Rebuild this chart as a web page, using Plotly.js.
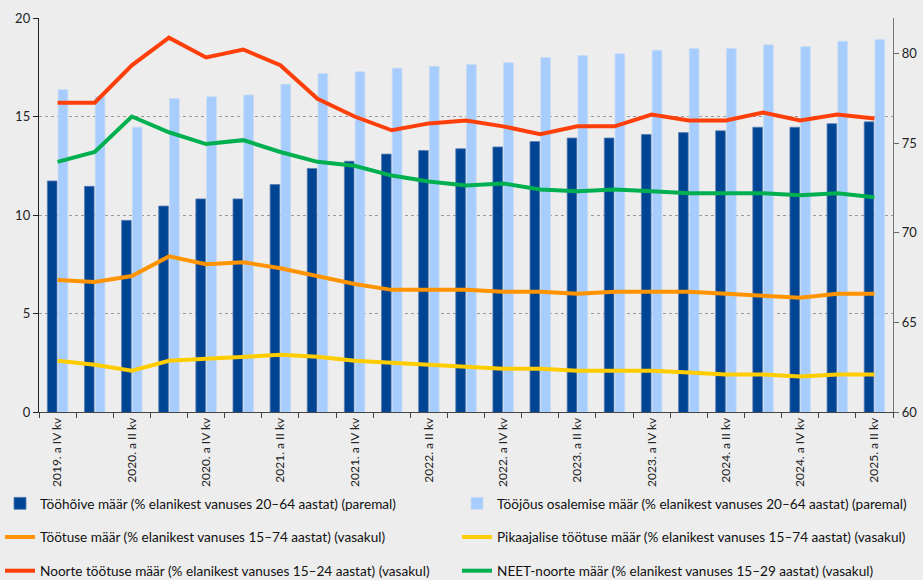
<!DOCTYPE html>
<html>
<head>
<meta charset="utf-8">
<script src="https://cdn.plot.ly/plotly-3.0.1.min.js"></script>
<style>
html,body{margin:0;padding:0;background:#ededed;}
#chart{width:923px;height:580px;}
</style>
</head>
<body>
<div id="chart"></div>
<script>
const quarters = [
  "2019. a IV kv","2020. a I kv","2020. a II kv","2020. a III kv","2020. a IV kv",
  "2021. a I kv","2021. a II kv","2021. a III kv","2021. a IV kv",
  "2022. a I kv","2022. a II kv","2022. a III kv","2022. a IV kv",
  "2023. a I kv","2023. a II kv","2023. a III kv","2023. a IV kv",
  "2024. a I kv","2024. a II kv","2024. a III kv","2024. a IV kv",
  "2025. a I kv","2025. a II kv"
];
// right axis (%)
const employmentRate = [72.9,72.6,70.7,71.5,71.9,71.9,72.7,73.6,74.0,74.4,74.6,74.7,74.8,75.1,75.3,75.3,75.5,75.6,75.7,75.9,75.9,76.1,76.2];
const participationRate = [78.0,77.6,75.9,77.5,77.6,77.7,78.3,78.9,79.0,79.2,79.3,79.4,79.5,79.8,79.9,80.0,80.2,80.3,80.3,80.5,80.4,80.7,80.8];
// left axis (%)
const unemploymentRate = [6.7,6.6,6.9,7.9,7.5,7.6,7.3,6.9,6.5,6.2,6.2,6.2,6.1,6.1,6.0,6.1,6.1,6.1,6.0,5.9,5.8,6.0,6.0];
const longTermUnemployment = [2.6,2.4,2.1,2.6,2.7,2.8,2.9,2.8,2.6,2.5,2.4,2.3,2.2,2.2,2.1,2.1,2.1,2.0,1.9,1.9,1.8,1.9,1.9];
const youthUnemployment = [15.7,15.7,17.6,19.0,18.0,18.4,17.6,15.9,15.0,14.3,14.65,14.8,14.5,14.1,14.5,14.5,15.1,14.8,14.8,15.2,14.8,15.1,14.9];
const neetRate = [12.7,13.2,15.0,14.2,13.6,13.8,13.2,12.7,12.5,12.0,11.7,11.5,11.6,11.3,11.2,11.3,11.2,11.1,11.1,11.1,11.0,11.1,10.9];

const seriesNames = [
  "Tööhõive määr (% elanikest vanuses 20–64 aastat) (paremal)",
  "Tööjõus osalemise määr (% elanikest vanuses 20–64 aastat) (paremal)",
  "Töötuse määr (% elanikest vanuses 15–74 aastat) (vasakul)",
  "Pikaajalise töötuse määr (% elanikest vanuses 15–74 aastat) (vasakul)",
  "Noorte töötuse määr (% elanikest vanuses 15–24 aastat) (vasakul)",
  "NEET-noorte määr (% elanikest vanuses 15–29 aastat) (vasakul)"
];

// bars on the base (right-side) axis "y"; lines on the overlaying left axis "y2" so they draw on top
const traces = [
  {type:"bar", x:quarters, y:employmentRate, yaxis:"y", name:seriesNames[0],
   marker:{color:"#004494", line:{color:"#5b7fb5", width:0.8}}, legend:"legend", legendgroup:"a"},
  {type:"bar", x:quarters, y:participationRate, yaxis:"y", name:seriesNames[1],
   marker:{color:"#a6cdfd", line:{color:"#c8dcf2", width:0.8}}, legend:"legend2", legendgroup:"b"},
  {type:"scatter", mode:"lines", x:quarters, y:unemploymentRate, yaxis:"y2", name:seriesNames[2],
   line:{color:"#ff9300", width:4}, legend:"legend", legendgroup:"c"},
  {type:"scatter", mode:"lines", x:quarters, y:longTermUnemployment, yaxis:"y2", name:seriesNames[3],
   line:{color:"#ffcc00", width:4}, legend:"legend2", legendgroup:"d"},
  {type:"scatter", mode:"lines", x:quarters, y:youthUnemployment, yaxis:"y2", name:seriesNames[4],
   line:{color:"#ff3f0a", width:4}, legend:"legend", legendgroup:"e"},
  {type:"scatter", mode:"lines", x:quarters, y:neetRate, yaxis:"y2", name:seriesNames[5],
   line:{color:"#00b050", width:4}, legend:"legend2", legendgroup:"f"}
];

const legendFont = {family:"Lato, 'Open Sans', sans-serif", size:13.6, color:"#111"};
const layout = {
  width:923, height:580,
  paper_bgcolor:"#ededed", plot_bgcolor:"#ededed",
  margin:{l:39, r:30, t:18, b:168, autoexpand:false},
  font:{family:"Lato, 'Open Sans', sans-serif", size:12, color:"#222"},
  barmode:"group", bargap:0.42, bargroupgap:0.1,
  showlegend:true,
  xaxis:{
    type:"category", dtick:1, ticklabelstep:2, tickangle:-90, automargin:false,
    tickson:"boundaries", ticks:"outside", ticklen:5, tickcolor:"#444",
    showline:true, linecolor:"#444", linewidth:1, showgrid:false,
    tickfont:{size:12, color:"#222"}
  },
  yaxis:{
    range:[60,82], tickmode:"linear", tick0:60, dtick:5, side:"right",
    ticks:"outside", ticklen:5, tickcolor:"#666", automargin:false,
    showline:true, linecolor:"#777", linewidth:1.2, showgrid:false, zeroline:false,
    tickfont:{size:13, color:"#222"}
  },
  yaxis2:{
    range:[0,20], tickmode:"linear", tick0:0, dtick:5, overlaying:"y", side:"left",
    ticks:"outside", ticklen:5, tickcolor:"#222",
    showline:true, linecolor:"#222", linewidth:1.2, automargin:false,
    showgrid:true, gridcolor:"#9a9a9a", griddash:"dot", gridwidth:1, zeroline:false,
    tickfont:{size:13, color:"#222"}
  },
  legend:{xref:"container", yref:"container", x:0, y:1-488/580, xanchor:"left", yanchor:"top",
    bgcolor:"rgba(0,0,0,0)", font:legendFont, tracegroupgap:13, itemwidth:30},
  legend2:{xref:"container", yref:"container", x:457/923, y:1-488/580, xanchor:"left", yanchor:"top",
    bgcolor:"rgba(0,0,0,0)", font:legendFont, tracegroupgap:13, itemwidth:30}
};

Plotly.newPlot("chart", traces, layout, {displayModeBar:false, staticPlot:true});
</script>
</body>
</html>
